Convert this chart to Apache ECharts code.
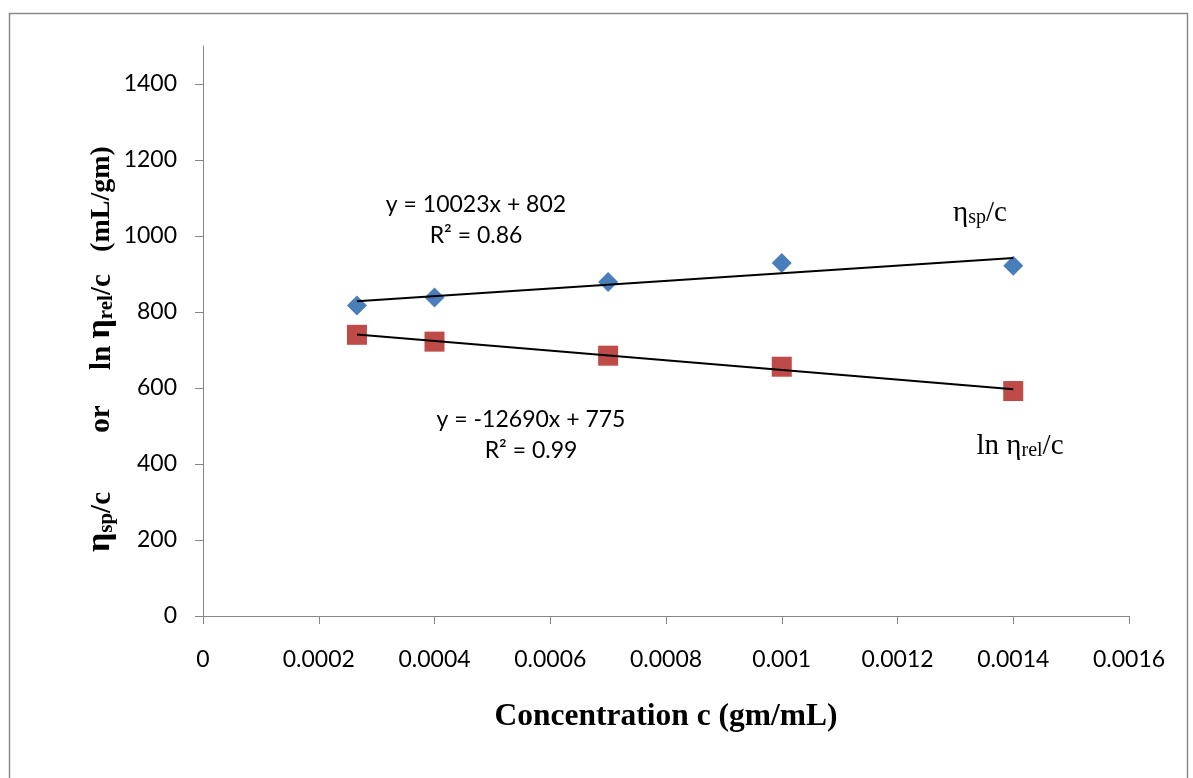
<!DOCTYPE html>
<html>
<head>
<meta charset="utf-8">
<script src="https://cdn.jsdelivr.net/npm/echarts@6/dist/echarts.min.js"></script>
<style>
html,body{margin:0;padding:0;background:#fff;}
#chart{width:1193px;height:778px;}
</style>
</head>
<body>
<div id="chart"></div>
<script>
// ---- data ----
const concentration = [0.000266, 0.0004, 0.0007, 0.001, 0.0014];
const etaSpC = [817, 838, 879, 929, 922];
const lnEtaRelC = [740, 722, 685, 656, 592];
const yTickValues = [0, 200, 400, 600, 800, 1000, 1200, 1400];
const eqSp = ['y = 10023x + 802', 'R² = 0.86'];
const eqRel = ['y = -12690x + 775', 'R² = 0.99'];

function linearFit(xs, ys) {
  const n = xs.length;
  const mx = xs.reduce((a, b) => a + b, 0) / n;
  const my = ys.reduce((a, b) => a + b, 0) / n;
  let sxy = 0, sxx = 0;
  for (let i = 0; i < n; i++) { sxy += (xs[i] - mx) * (ys[i] - my); sxx += (xs[i] - mx) * (xs[i] - mx); }
  const m = sxy / sxx, b = my - m * mx;
  const x0 = Math.min(...xs), x1 = Math.max(...xs);
  return [[x0, m * x0 + b], [x1, m * x1 + b]];
}

const chart = echarts.init(document.getElementById('chart'), null, {renderer: 'canvas'});
const axisGray = '#868686';
const labelFont = 'Lato, "Open Sans", sans-serif';
const serif = '"Liberation Serif", "Times New Roman", serif';

const titleRich = {
  b: {fontFamily: serif, fontWeight: 'bold', fontSize: 29, fill: '#000', lineHeight: 40, verticalAlign: 'bottom'},
  u: {fontFamily: serif, fontWeight: 'bold', fontSize: 28, fill: '#000', lineHeight: 40, verticalAlign: 'bottom'},
  e: {fontFamily: serif, fontWeight: 'bold', fontSize: 34, fill: '#000', lineHeight: 42, verticalAlign: 'bottom'},
  s: {fontFamily: serif, fontWeight: 'bold', fontSize: 21, fill: '#000', lineHeight: 22, verticalAlign: 'bottom'}
};
function yTitlePiece(text, cy) {
  return {type: 'text', x: 96, y: cy, rotation: Math.PI / 2, silent: true,
    style: {text: text, align: 'center', verticalAlign: 'middle', rich: titleRich}};
}
const labelRich = {
  n: {fontFamily: serif, fontSize: 29, fill: '#000', lineHeight: 36, verticalAlign: 'bottom'},
  s: {fontFamily: serif, fontSize: 20, fill: '#000', lineHeight: 20, verticalAlign: 'bottom'}
};
function eqText(text, x, y) {
  return {type: 'text', x: x, y: y, silent: true,
    style: {text: text, align: 'center', verticalAlign: 'middle', font: '23px ' + labelFont, fill: '#000'}};
}

const option = {
  animation: false,
  backgroundColor: '#fff',
  grid: {left: 203, top: 46, right: 64, bottom: 162, containLabel: false},
  xAxis: {
    type: 'value', min: 0, max: 0.0016, interval: 0.0002,
    splitLine: {show: false},
    axisLine: {onZero: false, lineStyle: {color: axisGray, width: 1}},
    axisTick: {show: true, length: 8, lineStyle: {color: axisGray}},
    axisLabel: {color: '#000', fontFamily: labelFont, fontSize: 23, margin: 32,
      formatter: v => String(+v.toFixed(6))},
    name: 'Concentration c (gm/mL)',
    nameLocation: 'middle', nameGap: 85,
    nameTextStyle: {fontFamily: serif, fontWeight: 'bold', fontSize: 31.5, color: '#000'}
  },
  yAxis: {
    type: 'value', min: 0, max: 1500, interval: 100,
    splitLine: {show: false},
    axisLine: {show: true, lineStyle: {color: axisGray, width: 1}},
    axisTick: {show: true, length: 8, lineStyle: {color: axisGray}, customValues: yTickValues},
    axisLabel: {color: '#000', fontFamily: labelFont, fontSize: 23, margin: 26, customValues: yTickValues,
      formatter: v => String(v)}
  },
  graphic: [
    {type: 'rect', left: 7, top: 11, shape: {width: 1178, height: 820},
     style: {fill: 'none', stroke: '#8a8a8a', lineWidth: 1.5}, silent: true},
    yTitlePiece('{e|η}{s|sp}{b|/c}', 522),
    yTitlePiece('{b|or}', 419),
    yTitlePiece('{b|ln }{e|η}{s|rel}{b|/c}', 322),
    yTitlePiece('{u|(mL/gm)}', 199),
    eqText(eqSp[0], 476, 205),
    eqText(eqSp[1], 476, 236),
    eqText(eqRel[0], 531, 420),
    eqText(eqRel[1], 531, 451),
    {type: 'text', x: 980, y: 210, silent: true,
     style: {text: '{n|η}{s|sp}{n|/c}', align: 'center', verticalAlign: 'middle', rich: labelRich}},
    {type: 'text', x: 1020, y: 443, silent: true,
     style: {text: '{n|ln η}{s|rel}{n|/c}', align: 'center', verticalAlign: 'middle', rich: labelRich}}
  ],
  series: [
    {name: 'ηsp/c', type: 'scatter', symbol: 'diamond', symbolSize: [20, 20],
     itemStyle: {color: '#4A7EBB', opacity: 1}, z: 2,
     data: concentration.map((c, i) => [c, etaSpC[i]])},
    {name: 'ln ηrel/c', type: 'scatter', symbol: 'rect', symbolSize: [20, 20],
     itemStyle: {color: '#BE4B48', opacity: 1}, z: 2,
     data: concentration.map((c, i) => [c, lnEtaRelC[i]])},
    {type: 'line', data: linearFit(concentration, etaSpC), symbol: 'none',
     lineStyle: {color: '#000', width: 2}, z: 5, silent: true},
    {type: 'line', data: linearFit(concentration, lnEtaRelC), symbol: 'none',
     lineStyle: {color: '#000', width: 2}, z: 5, silent: true}
  ]
};
chart.setOption(option);
</script>
</body>
</html>
